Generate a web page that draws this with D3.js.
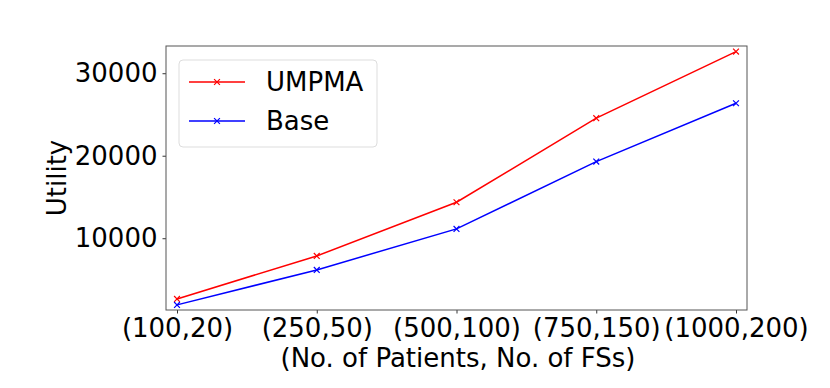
<!DOCTYPE html>
<html>
<head>
<meta charset="utf-8">
<script src="https://cdn.jsdelivr.net/npm/d3@7"></script>
<style>
  body { margin: 0; background: #fff; }
  text { font-family: "DejaVu Sans", sans-serif; fill: #000; }
</style>
</head>
<body>
<div id="chart"></div>
<script>
// chart data
const categories = ["(100,20)", "(250,50)", "(500,100)", "(750,150)", "(1000,200)"];
const umpma = [2640, 7850, 14360, 24550, 32620];
const base = [1920, 6160, 11130, 19290, 26360];
const yTicks = [10000, 20000, 30000];
const seriesNames = ["UMPMA", "Base"];
const seriesColors = ["#ff0000", "#0000ff"];

const width = 830, height = 388;
const margin = { left: 166, right: 83, top: 46, bottom: 78 };
const plotW = width - margin.left - margin.right;
const plotH = height - margin.top - margin.bottom;
const fs = "26px";

const svg = d3.select("#chart")
    .append("svg")
    .attr("width", width)
    .attr("height", height);

const x = d3.scalePoint()
    .domain(categories)
    .range([11, plotW - 11]);

const y = d3.scaleLinear()
    .domain([1300, 33300])
    .range([plotH, 0]);

const g = svg.append("g")
    .attr("transform", `translate(${margin.left},${margin.top})`);

// axes
const xAxis = g.append("g")
    .attr("transform", `translate(0,${plotH})`)
    .call(d3.axisBottom(x).tickSize(3.5).tickPadding(5));
xAxis.select(".domain").remove();
xAxis.selectAll("line").attr("stroke", "#000").attr("stroke-width", 0.8);
xAxis.selectAll("text").style("font-size", fs).attr("y", 27).attr("dy", null);

const yAxis = g.append("g")
    .call(d3.axisLeft(y).tickValues(yTicks).tickFormat(d3.format("d")).tickSize(3.5).tickPadding(5));
yAxis.select(".domain").remove();
yAxis.selectAll("line").attr("stroke", "#000").attr("stroke-width", 0.8);
yAxis.selectAll("text").style("font-size", fs);

// frame
g.append("rect")
    .attr("width", plotW)
    .attr("height", plotH)
    .attr("fill", "none")
    .attr("stroke", "#555")
    .attr("stroke-width", 1);

// lines
const line = d3.line()
    .x((d, i) => x(categories[i]))
    .y(d => y(d));

[umpma, base].forEach((vals, k) => {
    g.append("path")
        .datum(vals)
        .attr("fill", "none")
        .attr("stroke", seriesColors[k])
        .attr("stroke-width", 1.5)
        .attr("d", line);
    g.selectAll(null)
        .data(vals)
        .join("path")
        .attr("transform", (d, i) => `translate(${x(categories[i])},${y(d)})`)
        .attr("d", d3.symbol(d3.symbolX, 24))
        .attr("fill", "none")
        .attr("stroke", seriesColors[k])
        .attr("stroke-width", 1.2);
});

// axis labels
svg.append("text")
    .attr("x", 458)
    .attr("y", 367)
    .attr("text-anchor", "middle")
    .style("font-size", fs)
    .text("(No. of Patients, No. of FSs)");

svg.append("text")
    .attr("transform", `translate(66,${margin.top + plotH / 2}) rotate(-90)`)
    .attr("text-anchor", "middle")
    .style("font-size", fs)
    .text("Utility");

// legend
const legend = svg.append("g").attr("transform", "translate(179,60)");
legend.append("rect")
    .attr("width", 198)
    .attr("height", 87)
    .attr("rx", 4)
    .attr("fill", "#fff")
    .attr("fill-opacity", 0.8)
    .attr("stroke", "#ddd");

seriesNames.forEach((name, k) => {
    const ly = 22 + k * 39;
    legend.append("line")
        .attr("x1", 10).attr("x2", 66)
        .attr("y1", ly).attr("y2", ly)
        .attr("stroke", seriesColors[k])
        .attr("stroke-width", 1.5);
    legend.append("path")
        .attr("transform", `translate(38,${ly})`)
        .attr("d", d3.symbol(d3.symbolX, 24))
        .attr("stroke", seriesColors[k])
        .attr("stroke-width", 1.2);
    legend.append("text")
        .attr("x", 87)
        .attr("y", ly)
        .attr("dy", "0.35em")
        .style("font-size", fs)
        .text(name);
});
</script>
</body>
</html>
